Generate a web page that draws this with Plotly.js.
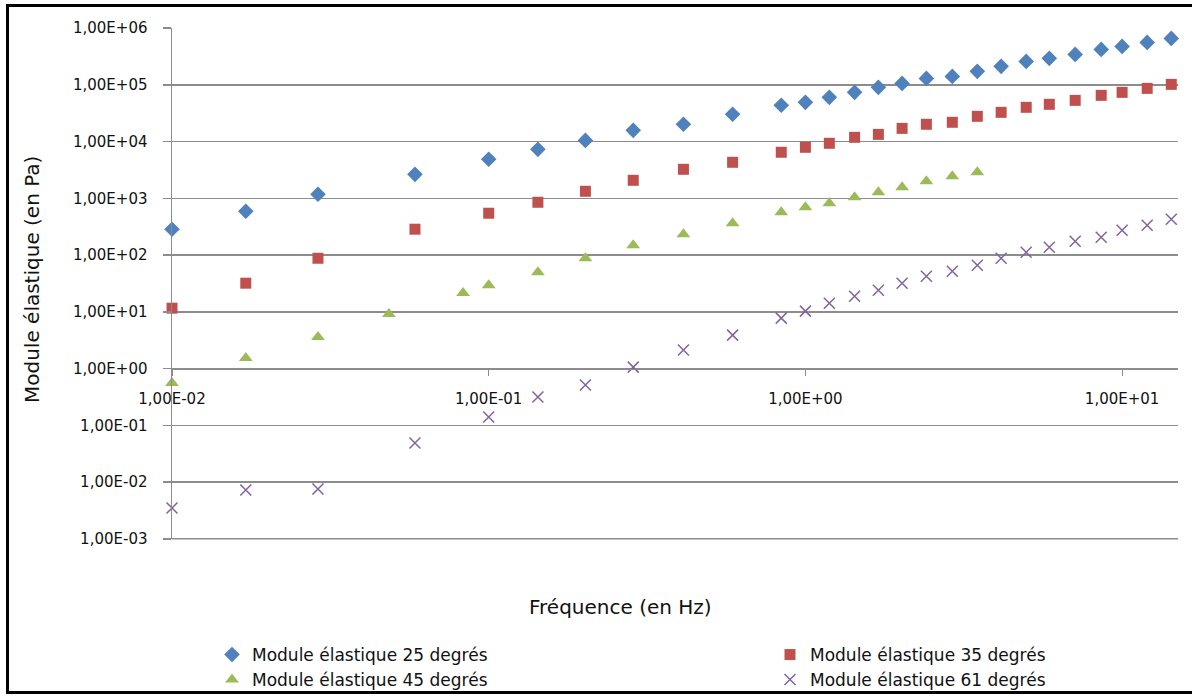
<!DOCTYPE html>
<html>
<head>
<meta charset="utf-8">
<script src="https://cdn.plot.ly/plotly-3.0.1.min.js"></script>
<style>
  html, body { margin: 0; padding: 0; overflow: hidden; background: #fff; }
  #chart { width: 1192px; height: 696px; position: absolute; left: 0; top: 0; }
  #frame { position: absolute; left: 6px; top: 4px; width: 1210px; height: 690px;
           box-sizing: border-box; border: 3px solid #000; pointer-events: none; }
</style>
</head>
<body>
<div id="chart"></div>
<div id="frame"></div>
<script>
// ---- data ----
const freq = [0.01, 0.0171, 0.0289, 0.0585, 0.1, 0.143, 0.202, 0.286, 0.412, 0.589, 0.839,
              1.0, 1.19, 1.43, 1.70, 2.02, 2.41, 2.91, 3.49, 4.15, 4.98, 5.89, 7.11, 8.59, 10.0, 12.0, 14.3];
const freq45 = [0.01, 0.0171, 0.0289, 0.0484, 0.083, 0.1, 0.143, 0.202, 0.286, 0.412, 0.589, 0.839,
                1.0, 1.19, 1.43, 1.70, 2.02, 2.41, 2.91, 3.49];
const mod25 = [286, 593, 1180, 2650, 4880, 7310, 10500, 15800, 20200, 30300, 43600,
               49200, 60200, 73800, 90400, 106000, 130000, 141000, 173000, 212000, 259000, 293000, 344000, 422000, 476000, 560000, 659000];
const mod35 = [11.6, 32, 88, 286, 547, 853, 1333, 2080, 3250, 4320, 6490,
               7940, 9340, 11900, 13400, 17100, 20200, 21900, 27900, 32800, 40200, 45400, 53300, 65300, 73800, 86700, 102000];
const mod45 = [0.556, 1.53, 3.59, 9.12, 21.4, 29.5, 50, 88, 149, 233, 365, 569,
               697, 820, 1045, 1280, 1567, 2000, 2450, 2880];
const mod61 = [0.0035, 0.00726, 0.00757, 0.0488, 0.140, 0.315, 0.512, 1.06, 2.12, 3.89, 7.75,
               10.3, 14.2, 18.9, 24.1, 32, 42.5, 52, 66.4, 88, 112, 138, 176, 207, 274, 336, 429];
const seriesNames = ["Module élastique 25 degrés", "Module élastique 35 degrés",
                     "Module élastique 45 degrés", "Module élastique 61 degrés"];
const yTickVals = [1e-3, 1e-2, 1e-1, 1e0, 1e1, 1e2, 1e3, 1e4, 1e5, 1e6];
const yTickText = ["1,00E-03", "1,00E-02", "1,00E-01", "1,00E+00", "1,00E+01", "1,00E+02",
                   "1,00E+03", "1,00E+04", "1,00E+05", "1,00E+06"];
const xTickVals = [0.01, 0.1, 1, 10];
const xTickText = ["1,00E-02", "1,00E-01", "1,00E+00", "1,00E+01"];
const xTitle = "Fréquence (en Hz)";
const yTitle = "Module élastique (en Pa)";

// ---- layout geometry ----
const W = 1192, H = 696;
const M = {l: 172, r: 14, t: 28, b: 157, autoexpand: false};
const PW = W - M.l - M.r, PH = H - M.t - M.b;
const px2x = px => (px - M.l) / PW;
const py2y = py => 1 - (py - M.t) / PH;

const FONT = "DejaVu Sans, Liberation Sans, Arial, sans-serif";
const GRID = "#8c8c8c";

const traces = [
  {x: freq, y: mod25, name: seriesNames[0], mode: "markers", type: "scatter", cliponaxis: false,
   marker: {symbol: "diamond", size: 12, color: "#4F81BD"}, legend: "legend"},
  {x: freq, y: mod35, name: seriesNames[1], mode: "markers", type: "scatter", cliponaxis: false,
   marker: {symbol: "square", size: 11, color: "#C0504D"}, legend: "legend2"},
  {x: freq45, y: mod45, name: seriesNames[2], mode: "markers", type: "scatter", cliponaxis: false,
   marker: {symbol: "triangle-up", size: 12, color: "#9BBB59"}, legend: "legend3"},
  {x: freq, y: mod61, name: seriesNames[3], mode: "markers", type: "scatter", cliponaxis: false,
   marker: {symbol: "x-thin-open", size: 11, color: "#8064A2", line: {width: 1.5, color: "#8064A2"}}, legend: "legend4"}
];

function leg(px, py) {
  return {x: px2x(px), y: py2y(py), xanchor: "left", yanchor: "middle", orientation: "h",
          bgcolor: "rgba(0,0,0,0)", borderwidth: 0, font: {family: FONT, size: 17, color: "#111"}};
}

const yRange = [-3.003, 6.002];
// paper fraction of the lowest decade gridline (1e-3)
const yMinFrac = (Math.log10(yTickVals[0]) - yRange[0]) / (yRange[1] - yRange[0]);

const layout = {
  width: W, height: H,
  margin: M,
  paper_bgcolor: "#fff", plot_bgcolor: "#fff",
  font: {family: FONT, color: "#111"},
  showlegend: true,
  xaxis: {
    type: "log", range: [-2, -2 + PW / 316.7],
    anchor: "free", position: 1/3,
    showgrid: false, zeroline: false,
    showline: true, linecolor: GRID, linewidth: 1.5,
    ticks: "outside", ticklen: 6, tickcolor: GRID, tickwidth: 1,
    tickmode: "array", tickvals: xTickVals, ticktext: xTickText,
    ticklabelstandoff: 10,
    tickfont: {family: FONT, size: 15, color: "#111"}
  },
  yaxis: {
    type: "log", range: yRange,
    showgrid: true, gridcolor: GRID, gridwidth: 1.5, zeroline: false,
    showline: true, linecolor: GRID, linewidth: 1.5,
    ticks: "outside", ticklen: 8, tickcolor: GRID, tickwidth: 1.5,
    tickmode: "array", tickvals: yTickVals, ticktext: yTickText,
    ticklabelstandoff: 12,
    tickfont: {family: FONT, size: 15, color: "#111"}
  },
  shapes: [
    {type: "line", xref: "paper", yref: "paper", x0: 0, x1: 1, y0: yMinFrac, y1: yMinFrac,
     line: {color: GRID, width: 1.5}, layer: "above"}
  ],
  legend: leg(212, 655),
  legend2: leg(770, 655),
  legend3: leg(212, 680),
  legend4: leg(770, 680),
  annotations: [
    {text: xTitle, xref: "paper", yref: "paper", x: px2x(620), y: py2y(607),
     xanchor: "center", yanchor: "middle", showarrow: false,
     font: {family: FONT, size: 20, color: "#111"}},
    {text: yTitle, xref: "paper", yref: "paper", x: px2x(32), y: py2y(280),
     xanchor: "center", yanchor: "middle", showarrow: false, textangle: -90,
     font: {family: FONT, size: 20, color: "#111"}}
  ]
};

Plotly.newPlot("chart", traces, layout, {displayModeBar: false, staticPlot: true});
</script>
</body>
</html>
